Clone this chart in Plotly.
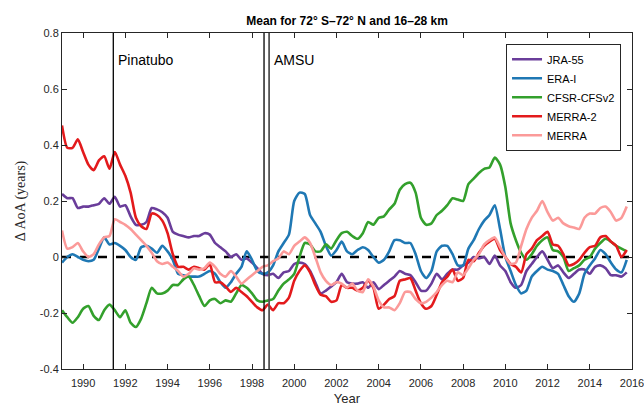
import plotly.graph_objects as go

YEARS = [
    1989.0, 1989.25, 1989.5, 1989.75, 1990.0, 1990.25, 1990.5, 1990.75, 1991.0, 1991.25, 1991.5,
    1991.75, 1992.0, 1992.25, 1992.5, 1992.75, 1993.0, 1993.25, 1993.5, 1993.75, 1994.0, 1994.25,
    1994.5, 1994.75, 1995.0, 1995.25, 1995.5, 1995.75, 1996.0, 1996.25, 1996.5, 1996.75, 1997.0,
    1997.25, 1997.5, 1997.75, 1998.0, 1998.25, 1998.5, 1998.75, 1999.0, 1999.25, 1999.5, 1999.75,
    2000.0, 2000.25, 2000.5, 2000.75, 2001.0, 2001.25, 2001.5, 2001.75, 2002.0, 2002.25, 2002.5,
    2002.75, 2003.0, 2003.25, 2003.5, 2003.75, 2004.0, 2004.25, 2004.5, 2004.75, 2005.0, 2005.25,
    2005.5, 2005.75, 2006.0, 2006.25, 2006.5, 2006.75, 2007.0, 2007.25, 2007.5, 2007.75, 2008.0,
    2008.25, 2008.5, 2008.75, 2009.0, 2009.25, 2009.5, 2009.75, 2010.0, 2010.25, 2010.5, 2010.75,
    2011.0, 2011.25, 2011.5, 2011.75, 2012.0, 2012.25, 2012.5, 2012.75, 2013.0, 2013.25, 2013.5,
    2013.75, 2014.0, 2014.25, 2014.5, 2014.75, 2015.0, 2015.25, 2015.5, 2015.75,
]

JRA55 = [
    0.225, 0.21, 0.21, 0.175, 0.18, 0.18, 0.185, 0.19, 0.21, 0.19, 0.215,
    0.18, 0.185, 0.145, 0.115, 0.115, 0.125, 0.175, 0.17, 0.16, 0.14, 0.09,
    0.08, 0.075, 0.07, 0.075, 0.075, 0.085, 0.08, 0.05, 0.035, 0.02, 0.0,
    0.01, -0.01, -0.005, -0.02, -0.04, -0.06, -0.065, -0.06, -0.075, -0.055, -0.05,
    -0.025, -0.02, -0.025, -0.05, -0.09, -0.13, -0.12, -0.105, -0.09, -0.06, -0.09,
    -0.095, -0.095, -0.09, -0.11, -0.09, -0.115, -0.1, -0.085, -0.07, -0.05, -0.06,
    -0.065, -0.09, -0.12, -0.12, -0.095, -0.06, -0.08, -0.06, -0.045, -0.045, -0.03,
    -0.02, 0.0, -0.005, 0.0, -0.025, 0.005, -0.03, -0.05, -0.09, -0.11, -0.1,
    -0.05, -0.025, 0.0, 0.02, -0.01, -0.04, -0.03, -0.055, -0.075, -0.06, -0.045,
    -0.045, -0.06, -0.035, -0.03, -0.04, -0.065, -0.065, -0.07, -0.055,
]

ERAI = [
    -0.02, 0.0, 0.01, 0.0, -0.01, -0.015, -0.01, 0.03, 0.07, 0.045, 0.05,
    0.04, 0.025, 0.0, -0.01, 0.035, 0.04, 0.03, 0.015, 0.04, 0.02, -0.01,
    -0.06, -0.065, -0.07, -0.07, -0.07, -0.06, -0.05, -0.06, -0.09, -0.11, -0.09,
    -0.06, -0.035, 0.02, -0.01, -0.05, -0.06, -0.055, -0.03, 0.02, 0.05, 0.08,
    0.2, 0.23, 0.225, 0.15, 0.12, 0.09, 0.04, 0.005, 0.025, 0.055, 0.02,
    0.01, 0.025, 0.035, 0.025, 0.0, -0.02, -0.01, 0.02, 0.06, 0.06, 0.05,
    0.05, 0.01, -0.05, -0.075, -0.05, 0.02, 0.04, 0.04, 0.01, -0.03, -0.03,
    0.03, 0.06, 0.1, 0.13, 0.15, 0.185, 0.1, 0.0, -0.05, -0.1, -0.13,
    -0.12, -0.07, -0.05, -0.035, -0.045, -0.05, -0.06, -0.1, -0.14, -0.16, -0.13,
    -0.06, -0.03, -0.005, 0.025, 0.01, -0.02, -0.045, -0.055, -0.01,
]

CFSR = [
    -0.19, -0.215, -0.235, -0.215, -0.185, -0.175, -0.21, -0.225, -0.19, -0.17, -0.19,
    -0.215, -0.19, -0.235, -0.25, -0.22, -0.165, -0.11, -0.13, -0.13, -0.12, -0.1,
    -0.1, -0.08, -0.07, -0.1, -0.14, -0.175, -0.155, -0.15, -0.165, -0.155, -0.16,
    -0.13, -0.1, -0.11, -0.13, -0.155, -0.16, -0.155, -0.15, -0.12, -0.095, -0.08,
    -0.06, 0.0, 0.05, 0.045, 0.02, 0.02, 0.045, 0.03, 0.06, 0.085, 0.09,
    0.075, 0.065, 0.085, 0.125, 0.115, 0.14, 0.145, 0.17, 0.19, 0.24, 0.26,
    0.265, 0.23, 0.14, 0.115, 0.12, 0.15, 0.165, 0.185, 0.21, 0.205, 0.2,
    0.26, 0.28, 0.3, 0.315, 0.32, 0.355, 0.33, 0.25, 0.12, 0.06, 0.015,
    -0.01, 0.01, 0.04, 0.06, 0.07, 0.025, 0.02, 0.0, -0.05, -0.04, -0.03,
    -0.01, 0.0, 0.03, 0.05, 0.065, 0.055, 0.04, 0.03, 0.02,
]

MERRA2 = [
    0.47, 0.39, 0.39, 0.42, 0.375, 0.33, 0.31, 0.345, 0.36, 0.315, 0.375,
    0.33, 0.29, 0.23, 0.14, 0.11, 0.1, 0.155, 0.15, 0.13, 0.085, 0.01,
    -0.035, -0.035, -0.045, -0.035, -0.04, -0.045, -0.025, -0.09, -0.09, -0.105, -0.125,
    -0.11, -0.125, -0.14, -0.16, -0.18, -0.19, -0.17, -0.19, -0.165, -0.165, -0.145,
    -0.085, -0.05, -0.03, -0.055, -0.1, -0.135, -0.14, -0.16, -0.155, -0.1, -0.11,
    -0.11, -0.12, -0.11, -0.085, -0.11, -0.185, -0.17, -0.15, -0.14, -0.085, -0.08,
    -0.075, -0.12, -0.165, -0.185, -0.175, -0.135, -0.09, -0.07, -0.045, -0.085, -0.075,
    -0.01, -0.015, 0.015, 0.04, 0.055, 0.065, 0.025, 0.0, -0.025, -0.035, -0.055,
    0.01, 0.03, 0.06, 0.075, 0.09, 0.045, 0.04, 0.01, -0.03, -0.025, -0.01,
    0.015, 0.035, 0.04, 0.07, 0.075, 0.055, 0.04, 0.0, 0.025,
]

MERRA = [
    0.095, 0.03, 0.035, 0.05, 0.02, 0.0, 0.01, 0.045, 0.07, 0.075, 0.135,
    0.125, 0.115, 0.1, 0.08, 0.06, 0.04, 0.015, -0.015, -0.025, -0.02, -0.035,
    -0.05, -0.07, -0.06, -0.04, -0.045, -0.04, -0.02, -0.035, -0.06, -0.07, -0.05,
    -0.07, -0.095, -0.08, -0.065, -0.05, -0.035, -0.03, -0.015, -0.005, 0.02, 0.01,
    0.04, 0.055, 0.07, 0.05, 0.0, -0.055, -0.085, -0.1, -0.09, -0.095, -0.11,
    -0.095, -0.12, -0.125, -0.08, -0.105, -0.155, -0.18, -0.18, -0.19, -0.165, -0.125,
    -0.125, -0.15, -0.165, -0.16, -0.145, -0.125, -0.1, -0.085, -0.09, -0.055, -0.065,
    -0.04, -0.01, 0.01, 0.045, 0.06, 0.07, 0.035, 0.0, -0.025, -0.02, 0.04,
    0.1, 0.14, 0.165, 0.2, 0.16, 0.13, 0.14, 0.12, 0.11, 0.105, 0.1,
    0.14, 0.155, 0.155, 0.175, 0.18, 0.16, 0.13, 0.14, 0.18,
]

SERIES = [
    ("JRA-55", JRA55, "#6A3D9A"),
    ("ERA-I", ERAI, "#1F78B4"),
    ("CFSR-CFSv2", CFSR, "#33A02C"),
    ("MERRA-2", MERRA2, "#E31A1C"),
    ("MERRA", MERRA, "#FB9A99"),
]

X_TICKS = [1990, 1992, 1994, 1996, 1998, 2000, 2002, 2004, 2006, 2008, 2010, 2012, 2014, 2016]
Y_TICKS = [-0.4, -0.2, 0, 0.2, 0.4, 0.6, 0.8]
Y_TICK_TEXT = ["-0.4", "-0.2", "0", "0.2", "0.4", "0.6", "0.8"]
PINATUBO = 1991.43
AMSU = [1998.57, 1998.81]

FONT = "Liberation Sans, Arial"

fig = go.Figure()

# zero reference line
fig.add_trace(go.Scatter(x=[1989, 2016], y=[0, 0], mode="lines",
                         line=dict(color="black", width=2.5, dash="dash"),
                         showlegend=False, hoverinfo="skip"))

for name, vals, color in SERIES:
    fig.add_trace(go.Scatter(x=YEARS, y=vals, mode="lines", name=name,
                             line=dict(color=color, width=2.6, shape="spline", smoothing=0.6)))

fig.add_vline(x=PINATUBO, line=dict(color="black", width=1.3))
fig.add_vline(x=AMSU[0], line=dict(color="black", width=1.3))
fig.add_vline(x=AMSU[1], line=dict(color="#555555", width=1.8))

fig.add_annotation(x=PINATUBO, y=0.8, xref="x", yref="y", text="Pinatubo",
                   showarrow=False, xanchor="left", yanchor="top", xshift=3, yshift=-17,
                   font=dict(family=FONT, size=14, color="black"))
fig.add_annotation(x=AMSU[1], y=0.8, xref="x", yref="y", text="AMSU",
                   showarrow=False, xanchor="left", yanchor="top", xshift=3, yshift=-17,
                   font=dict(family=FONT, size=14, color="black"))

axis_common = dict(showline=True, linecolor="#262626", linewidth=1, mirror="allticks",
                   ticks="inside", ticklen=5, tickcolor="#262626", showgrid=False,
                   zeroline=False, automargin=False, ticklabeloverflow="allow",
                   tickfont=dict(family=FONT, size=11, color="#262626"))

fig.update_xaxes(range=[1989, 2016], tickvals=X_TICKS, ticklabelstandoff=4,
                 title=dict(text="Year", font=dict(family=FONT, size=13, color="#262626"),
                            standoff=5),
                 **axis_common)
fig.update_yaxes(range=[-0.4, 0.8], tickvals=Y_TICKS, ticktext=Y_TICK_TEXT,
                 title=dict(text="Δ AoA (years)", font=dict(family="Liberation Serif, DejaVu Serif", size=14, color="#262626"),
                            standoff=10),
                 **axis_common)

fig.update_layout(
    width=644, height=406,
    margin=dict(l=62, r=12, t=33, b=37, autoexpand=False),
    paper_bgcolor="white", plot_bgcolor="white",
    title=dict(text="<b>Mean for 72° S–72° N and 16–28 km</b>", x=0.539, xanchor="center",
               y=0.948, yanchor="middle",
               font=dict(family=FONT, size=12, color="black")),
    legend=dict(x=0.779, y=0.968, xanchor="left", yanchor="top",
                bgcolor="white", bordercolor="#262626", borderwidth=1,
                font=dict(family=FONT, size=11, color="black"),
                itemwidth=30, tracegroupgap=0),
    showlegend=True,
)

fig.write_html("out.html", config={"displayModeBar": False},
               post_script="document.body.style.margin='0';document.body.style.overflow='hidden';")
